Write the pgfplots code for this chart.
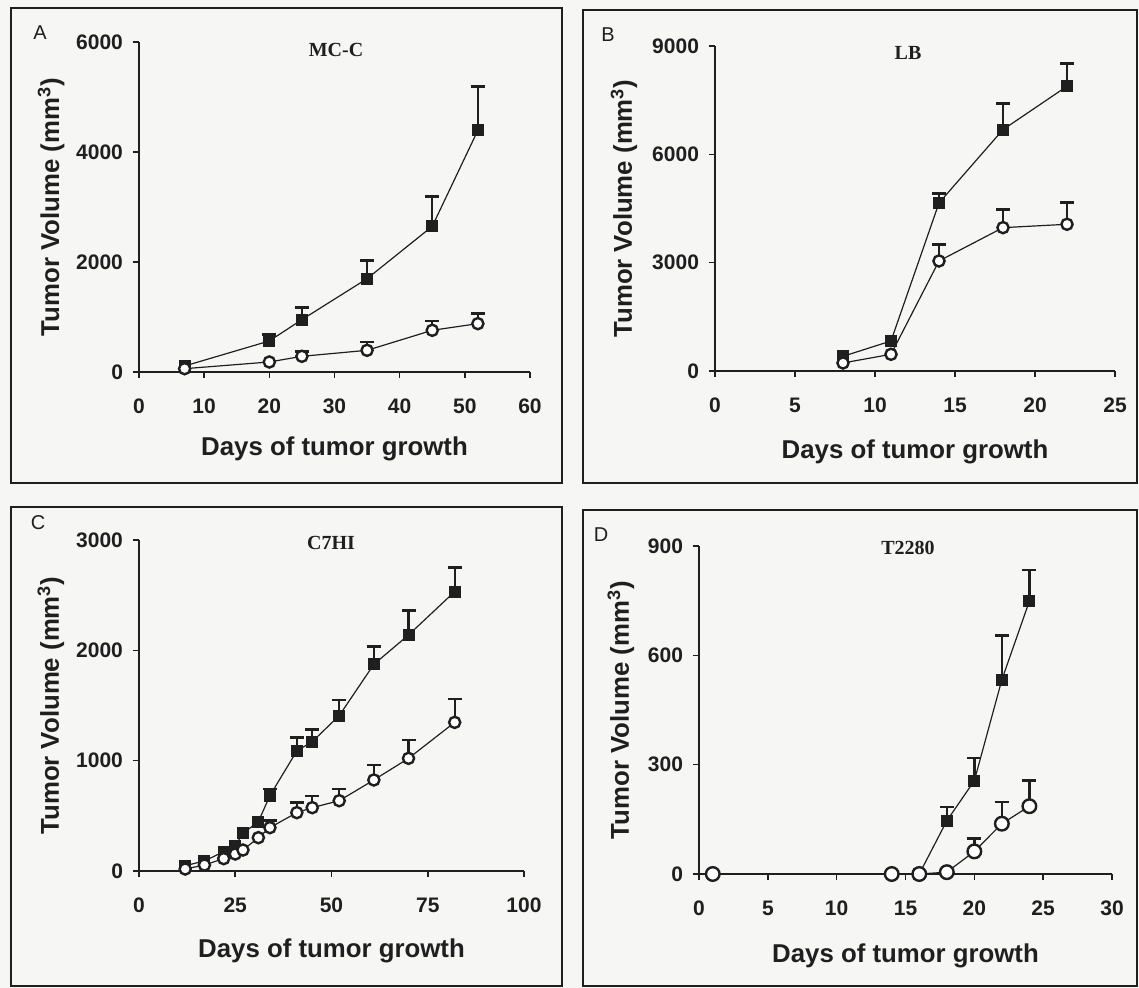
\documentclass[border=0pt]{standalone}
\usepackage{pgfplots}
\pgfplotsset{compat=1.18}
\usepackage{pgfplotstable}
\usepackage{fontspec}
\setmainfont{Liberation Sans}
\newfontfamily\serif{Liberation Serif}

\definecolor{ink}{rgb}{0.12,0.12,0.12}
\definecolor{paper}{rgb}{0.965,0.965,0.96}

\pgfplotstableread{
x y e
7 109 0
20 564 115
25 952 218
35 1697 333
45 2648 546
52 4394 800
}\Asq
\pgfplotstableread{
x y e
7 60 0
20 182 0
25 285 91
35 394 151
45 758 169
52 879 182
}\Aci
\pgfplotstableread{
x y e
8 406 0
11 831 0
14 4654 258
18 6685 720
22 7885 628
}\Bsq
\pgfplotstableread{
x y e
8 222 0
11 462 0
14 3047 453
18 3970 499
22 4063 600
}\Bci
\pgfplotstableread{
x y e
12 48 0
17 91 0
22 175 0
25 227 0
27 341 0
31 447 0
34 683 60
41 1088 123
45 1172 112
52 1408 142
61 1873 160
70 2139 221
82 2532 217
}\Csq
\pgfplotstableread{
x y e
12 18 0
17 54 0
22 112 0
25 154 0
27 190 0
31 302 0
34 393 63
41 529 93
45 574 106
52 637 106
61 825 136
70 1021 166
82 1347 212
}\Cci
\pgfplotstableread{
x y e
16 0 0
18 146 38
20 256 62
22 533 121
24 749 85
}\Dsq
\pgfplotstableread{
x y e
1 0 0
14 0 0
16 0 0
18 5 0
20 62 35
22 138 59
24 186 71
}\Dci

\pgfplotsset{
  panel/.style={
    scale only axis, anchor=south west,
    axis lines=left, axis line style={-, line width=0.8pt, ink},
    tick align=outside, major tick length=3pt,
    tick style={line width=0.8pt, ink},
    xmin=0, ymin=0, clip=false, scaled ticks=false,
    /pgf/number format/1000 sep={},
    /pgf/number format/assume math mode=true,
    tick label style={font=\fontsize{10.5}{12.5}\selectfont\bfseries, text=ink},
    xticklabel style={yshift=-7pt},
    yticklabel style={xshift=-1.5pt},
    label style={font=\fontsize{12.9}{15}\selectfont\bfseries, text=ink},
    xlabel={Days of tumor growth},
    ylabel={Tumor Volume (mm\textsuperscript{3})},
  },
  ylab/.style={ylabel style={at={(axis description cs:#1,0.5)}, anchor=center}},
  xlab/.style={xlabel style={at={(axis description cs:0.5,#1)}, anchor=center}},
  sq/.style={ink, line width=0.6pt, mark=square*, mark size=2.7pt, mark options={solid, fill=ink, draw=ink}},
  ci/.style={ink, line width=0.6pt, mark=*, mark size=2.8pt, mark options={solid, fill=white, draw=ink, line width=1.2pt}},
  eb/.style={only marks, mark=none, forget plot,
    error bars/y dir=plus, error bars/y explicit,
    error bars/error mark=-,
    error bars/error bar style={draw=ink, line width=1.2pt},
    error bars/error mark options={rotate=90, draw=ink, line width=1.2pt, mark size=3.5pt}},
}

\begin{document}
\begin{tikzpicture}
\fill[paper] (0,0) rectangle (569.5pt,494pt);
\draw[ink, line width=0.6pt] (5.5pt,252.5pt) rectangle (281pt,490pt);
\draw[ink, line width=0.6pt] (291.5pt,252.5pt) rectangle (568.5pt,489pt);
\draw[ink, line width=0.6pt] (5.5pt,1pt) rectangle (281pt,240.5pt);
\draw[ink, line width=0.6pt] (291.5pt,1pt) rectangle (568.5pt,239pt);

% Panel A
\begin{axis}[panel, at={(69.5pt,308pt)}, width=195.5pt, height=165pt,
  xmax=60, ymax=6000, xtick={0,10,...,60}, ytick={0,2000,4000,6000},
  ylab=-0.225, xlab=-0.233]
\addplot[skip coords between index={0}{1}, eb] table[x=x, y=y, y error=e] {\Asq};
\addplot[skip coords between index={0}{2}, eb] table[x=x, y=y, y error=e] {\Aci};
\addplot[sq] table[x=x, y=y] {\Asq};
\addplot[ci] table[x=x, y=y] {\Aci};
\end{axis}

% Panel B
\begin{axis}[panel, at={(357.5pt,308.5pt)}, width=200pt, height=162.5pt,
  xmax=25, ymax=9000, xtick={0,5,...,25}, ytick={0,3000,6000,9000},
  ylab=-0.2275, xlab=-0.249]
\addplot[skip coords between index={0}{2}, eb] table[x=x, y=y, y error=e] {\Bsq};
\addplot[skip coords between index={0}{2}, eb] table[x=x, y=y, y error=e] {\Bci};
\addplot[sq] table[x=x, y=y] {\Bsq};
\addplot[ci] table[x=x, y=y] {\Bci};
\end{axis}

% Panel C
\begin{axis}[panel, at={(69.5pt,58.5pt)}, width=192.5pt, height=165.5pt,
  xmax=100, ymax=3000, xtick={0,25,...,100}, ytick={0,1000,2000,3000},
  ylab=-0.229, xlab=-0.240]
\addplot[skip coords between index={0}{6}, eb] table[x=x, y=y, y error=e] {\Csq};
\addplot[skip coords between index={0}{6}, eb] table[x=x, y=y, y error=e] {\Cci};
\addplot[sq] table[x=x, y=y] {\Csq};
\addplot[ci] table[x=x, y=y] {\Cci};
\end{axis}

% Panel D
\begin{axis}[panel, at={(349.5pt,57pt)}, width=206.5pt, height=164pt,
  xmax=30, ymax=900, xtick={0,5,...,30}, ytick={0,300,600,900},
  ylab=-0.189, xlab=-0.250]
\addplot[skip coords between index={0}{1}, eb] table[x=x, y=y, y error=e] {\Dsq};
\addplot[skip coords between index={0}{4}, eb] table[x=x, y=y, y error=e] {\Dci};
\addplot[sq] table[x=x, y=y] {\Dsq};
\addplot[ci, mark size=3.4pt] table[x=x, y=y] {\Dci};
\end{axis}

\node[font=\fontsize{10}{12}\selectfont, text=ink] at (20pt,477.5pt) {A};
\node[font=\fontsize{10}{12}\selectfont, text=ink] at (304pt,476.5pt) {B};
\node[font=\fontsize{10}{12}\selectfont, text=ink] at (19pt,232.5pt) {C};
\node[font=\fontsize{10}{12}\selectfont, text=ink] at (300.5pt,226.5pt) {D};
\node[font=\serif\fontsize{10}{12}\selectfont\bfseries, text=ink] at (168pt,469pt) {MC-C};
\node[font=\serif\fontsize{10}{12}\selectfont\bfseries, text=ink] at (454pt,467.5pt) {LB};
\node[font=\serif\fontsize{10}{12}\selectfont\bfseries, text=ink] at (165.5pt,222.5pt) {C7HI};
\node[font=\serif\fontsize{10}{12}\selectfont\bfseries, text=ink] at (454pt,220pt) {T2280};
\end{tikzpicture}
\end{document}
